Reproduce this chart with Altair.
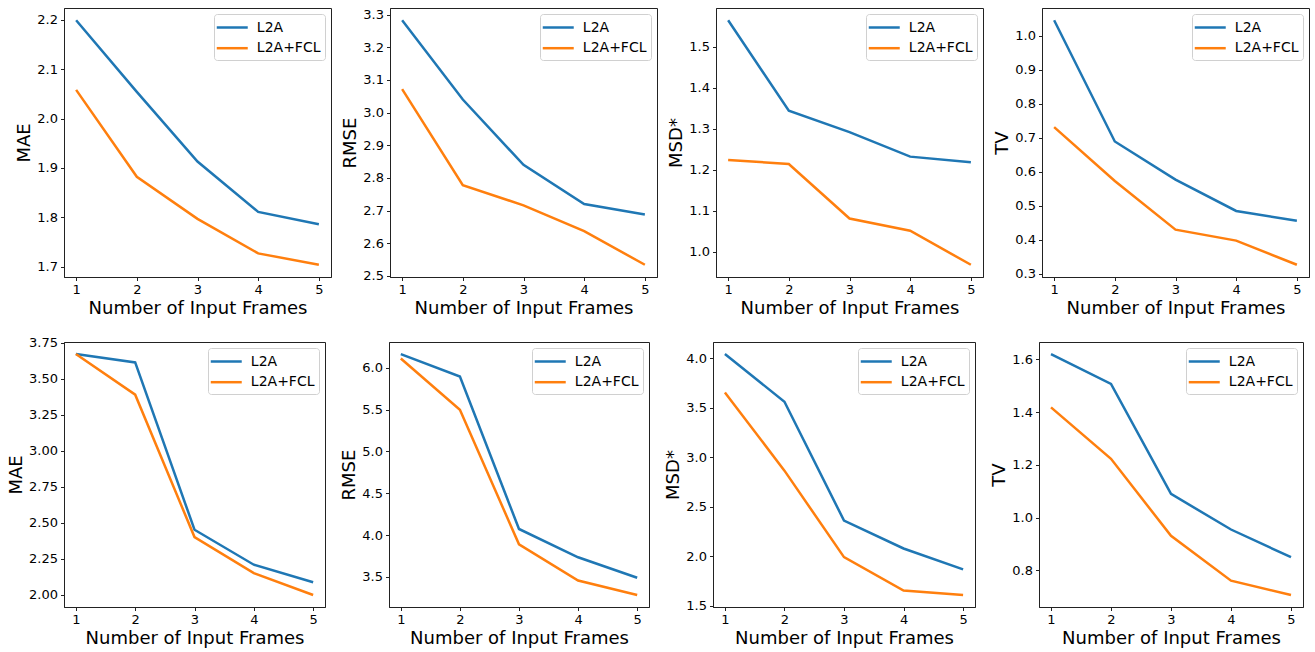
import altair as alt
import pandas as pd

frames = [1, 2, 3, 4, 5]
series_names = ["L2A", "L2A+FCL"]
series_colors = ["#1f77b4", "#ff7f0e"]
x_title = "Number of Input Frames"

# ---- top row ----
top_mae_l2a = [2.199, 2.054, 1.913, 1.811, 1.786]
top_mae_fcl = [2.058, 1.882, 1.797, 1.727, 1.704]
top_mae_ticks = [1.7, 1.8, 1.9, 2.0, 2.1, 2.2]

top_rmse_l2a = [3.283, 3.040, 2.840, 2.720, 2.688]
top_rmse_fcl = [3.072, 2.778, 2.716, 2.637, 2.534]
top_rmse_ticks = [2.5, 2.6, 2.7, 2.8, 2.9, 3.0, 3.1, 3.2, 3.3]

top_msd_l2a = [1.565, 1.344, 1.292, 1.232, 1.218]
top_msd_fcl = [1.224, 1.214, 1.081, 1.051, 0.968]
top_msd_ticks = [1.0, 1.1, 1.2, 1.3, 1.4, 1.5]

top_tv_l2a = [1.045, 0.689, 0.577, 0.485, 0.456]
top_tv_fcl = [0.731, 0.573, 0.430, 0.398, 0.327]
top_tv_ticks = [0.3, 0.4, 0.5, 0.6, 0.7, 0.8, 0.9, 1.0]

# ---- bottom row ----
bot_mae_l2a = [3.673, 3.615, 2.453, 2.210, 2.088]
bot_mae_fcl = [3.673, 3.391, 2.402, 2.152, 2.000]
bot_mae_ticks = [2.0, 2.25, 2.5, 2.75, 3.0, 3.25, 3.5, 3.75]

bot_rmse_l2a = [6.163, 5.895, 4.073, 3.735, 3.490]
bot_rmse_fcl = [6.110, 5.497, 3.890, 3.457, 3.285]
bot_rmse_ticks = [3.5, 4.0, 4.5, 5.0, 5.5, 6.0]

bot_msd_l2a = [4.044, 3.562, 2.360, 2.078, 1.866]
bot_msd_fcl = [3.656, 2.865, 1.990, 1.652, 1.608]
bot_msd_ticks = [1.5, 2.0, 2.5, 3.0, 3.5, 4.0]

bot_tv_l2a = [1.620, 1.507, 1.090, 0.955, 0.850]
bot_tv_fcl = [1.418, 1.223, 0.931, 0.761, 0.707]
bot_tv_ticks = [0.8, 1.0, 1.2, 1.4, 1.6]

FONT = "DejaVu Sans"


def panel(ytitle, l2a, fcl, ticks, fmt, w, h):
    df = pd.DataFrame({
        "frames": frames * 2,
        "series": [series_names[0]] * len(frames) + [series_names[1]] * len(frames),
        "value": l2a + fcl,
    })
    vals = l2a + fcl
    lo, hi = min(vals), max(vals)
    m = 0.05 * (hi - lo)
    return alt.Chart(df).mark_line(strokeWidth=2.5).encode(
        x=alt.X("frames:Q",
                scale=alt.Scale(domain=[0.8, 5.2], nice=False, zero=False),
                axis=alt.Axis(title=x_title, values=frames, format="d")),
        y=alt.Y("value:Q",
                scale=alt.Scale(domain=[lo - m, hi + m], nice=False, zero=False),
                axis=alt.Axis(title=ytitle, values=ticks, format=fmt)),
        color=alt.Color("series:N",
                        scale=alt.Scale(domain=series_names, range=series_colors),
                        legend=alt.Legend(
                            title=None, orient="top-right", offset=6, padding=4.5,
                            fillColor="white", strokeColor="#d0d0d0", cornerRadius=3,
                            symbolType="M-2,0H2", symbolSize=240, symbolStrokeWidth=2.5,
                            symbolOffset=4.75, labelOffset=15.6, labelFontSize=14,
                            labelFont=FONT, labelColor="black", rowPadding=4.7)),
        detail="series:N",
    ).properties(width=w, height=h)


top = alt.hconcat(
    panel("MAE", top_mae_l2a, top_mae_fcl, top_mae_ticks, ".1f", 267, 269),
    panel("RMSE", top_rmse_l2a, top_rmse_fcl, top_rmse_ticks, ".1f", 267, 269),
    panel("MSD*", top_msd_l2a, top_msd_fcl, top_msd_ticks, ".1f", 267, 269),
    panel("TV", top_tv_l2a, top_tv_fcl, top_tv_ticks, ".1f", 267, 269),
    spacing=9,
).resolve_scale(color="independent")

bottom = alt.hconcat(
    panel("MAE", bot_mae_l2a, bot_mae_fcl, bot_mae_ticks, ".2f", 261, 265),
    panel("RMSE", bot_rmse_l2a, bot_rmse_fcl, bot_rmse_ticks, ".1f", 260, 265),
    panel("MSD*", bot_msd_l2a, bot_msd_fcl, bot_msd_ticks, ".1f", 262, 265),
    panel("TV", bot_tv_l2a, bot_tv_fcl, bot_tv_ticks, ".1f", 264, 265),
    spacing=14,
).resolve_scale(color="independent")

chart = alt.vconcat(top, bottom, spacing=18).resolve_scale(
    color="independent"
).properties(
    padding={"left": 7, "top": 7, "right": 2, "bottom": 2},
    background="white",
).configure_view(
    stroke="#222222", strokeWidth=1
).configure_axis(
    grid=False,
    labelFont=FONT, labelFontSize=13, labelColor="black",
    titleFont=FONT, titleFontSize=18, titleFontWeight="normal", titleColor="black",
    tickColor="#222222", tickSize=3.5, tickWidth=1,
    domainColor="#222222", domainWidth=1,
    labelPadding=3, titlePadding=3,
)

chart.save("out.html", embed_options={"renderer": "svg", "actions": False})
